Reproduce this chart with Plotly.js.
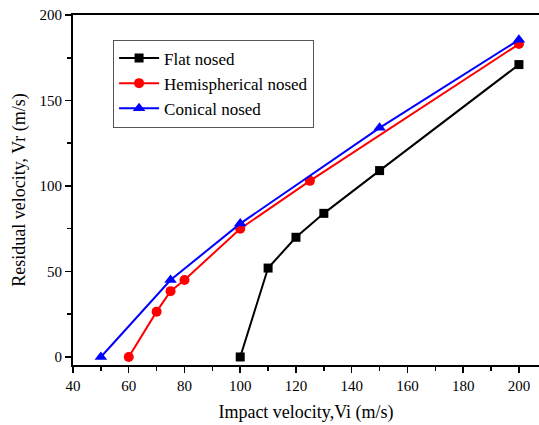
<!DOCTYPE html>
<html><head><meta charset="utf-8">
<script src="https://cdn.plot.ly/plotly-3.0.1.min.js"></script>
<style>body{margin:0;padding:0;background:#fff}#chart{width:539px;height:425px}</style>
</head><body><div id="chart"></div>
<script>
const flatX = [100, 110, 120, 130, 150, 200];
const flatY = [0, 52, 70, 84, 109, 171];
const hemiX = [60, 70, 75, 80, 100, 125, 200];
const hemiY = [0, 26.5, 38.5, 45, 75, 103, 183];
const conX = [50, 75, 100, 150, 200];
const conY = [0, 45, 78, 134, 185.5];
const names = ["Flat nosed", "Hemispherical nosed", "Conical nosed"];

const FAM = "Liberation Serif";
const f = (s) => ({family: FAM, size: s, color: "#000"});
const traces = [
  {x: flatX, y: flatY, name: names[0], mode: "lines+markers", line: {color: "#000", width: 2}, marker: {symbol: "square", size: 9, color: "#000"}},
  {x: hemiX, y: hemiY, name: names[1], mode: "lines+markers", line: {color: "#ff0000", width: 2}, marker: {symbol: "circle", size: 10, color: "#ff0000"}},
  {x: conX, y: conY, name: names[2], mode: "lines+markers", line: {color: "#0000ff", width: 2}, marker: {symbol: "triangle-up", size: 11, color: "#0000ff"}}
];
const layout = {
  width: 539, height: 425,
  margin: {l: 73, r: 0, t: 15, b: 60},
  paper_bgcolor: "#fff", plot_bgcolor: "#fff",
  font: f(15),
  showlegend: true,
  legend: {x: 0.086, y: 0.93, xanchor: "left", yanchor: "top", bordercolor: "#555", borderwidth: 1, bgcolor: "#fff", font: f(17), tracegroupgap: 0, itemwidth: 40},
  xaxis: {
    range: [40, 207.2], showgrid: false, zeroline: false,
    showline: true, linecolor: "#000", linewidth: 2, mirror: true,
    ticks: "outside", ticklen: 6, tickwidth: 1.5, tickcolor: "#000",
    tick0: 40, dtick: 20,
    minor: {ticks: "outside", ticklen: 4, tickwidth: 1.5, dtick: 10, tick0: 40, tickcolor: "#000"},
    tickfont: f(15),
    title: {text: "Impact velocity,Vi (m/s)", font: f(18), standoff: 12}
  },
  yaxis: {
    range: [-4.7, 200], showgrid: false, zeroline: false,
    showline: true, linecolor: "#000", linewidth: 2,
    ticks: "outside", ticklen: 6, tickwidth: 1.5, tickcolor: "#000",
    tick0: 0, dtick: 50,
    minor: {ticks: "outside", ticklen: 4, tickwidth: 1.5, dtick: 25, tick0: 0, tickcolor: "#000"},
    tickfont: f(15),
    title: {text: "Residual velocity, Vr (m/s)", font: f(18), standoff: 9}
  }
};
Plotly.newPlot("chart", traces, layout, {staticPlot: true, displayModeBar: false});
</script></body></html>
